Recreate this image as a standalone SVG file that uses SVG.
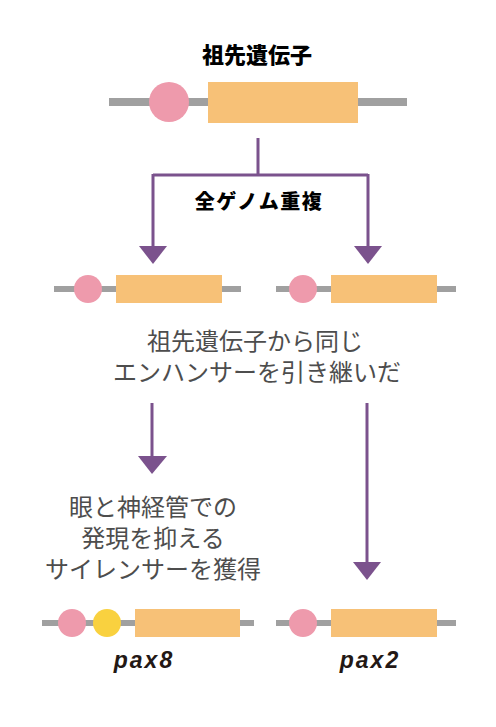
<svg xmlns="http://www.w3.org/2000/svg" width="496" height="727" viewBox="0 0 496 727">
<style>
.ln{stroke:#a0a0a0;stroke-width:6}
.pk{fill:#ee9aac}
.yl{fill:#f9d13f}
.ex{fill:#f7c177}
.ttl{font-family:"Noto Sans CJK JP",sans-serif;font-weight:900;font-size:20px;fill:#000;text-anchor:middle}
.txt{font-family:"Noto Sans CJK JP",sans-serif;font-size:24px;fill:#4d4d4d;text-anchor:middle}
.lab{font-family:"Liberation Sans",Arial,sans-serif;font-weight:bold;font-style:italic;font-size:23px;letter-spacing:2px;fill:#231815;text-anchor:middle}
.cn{stroke:#7b528d;stroke-width:3;fill:none}
.ah{fill:#7b528d}
</style>
<rect width="496" height="727" fill="#fff"/>
<g id="ancestor">
<text class="ttl" x="257" y="63" style="font-size:22px">祖先遺伝子</text>
<line class="ln" x1="109" y1="102" x2="407" y2="102" style="stroke-width:8"/>
<circle class="pk" cx="169" cy="102" r="20"/>
<rect class="ex" x="208" y="82" width="150" height="41"/>
</g>
<g id="connectors">
<path class="cn" d="M258,138 V175 M153,175 H368 M153,174 V248 M368,174 V248"/>
<polygon class="ah" points="139,246 167,246 153,264"/>
<polygon class="ah" points="354,246 382,246 368,264"/>
<path class="cn" d="M152,403 V458"/>
<polygon class="ah" points="138,456 167,456 152,474"/>
<path class="cn" d="M367,403 V565"/>
<polygon class="ah" points="353,562 381,562 367,580"/>
</g>
<g id="label-wgd">
<text class="ttl" x="259" y="209" style="letter-spacing:1.5px">全ゲノム重複</text>
</g>
<g id="gene-left-dup">
<line class="ln" x1="54" y1="289" x2="241" y2="289"/>
<circle class="pk" cx="88" cy="289" r="14"/>
<rect class="ex" x="116" y="275" width="106" height="28"/>
</g>
<g id="gene-right-dup">
<line class="ln" x1="276" y1="289" x2="456" y2="289"/>
<circle class="pk" cx="303" cy="289" r="14"/>
<rect class="ex" x="331" y="275" width="106" height="28"/>
</g>
<g id="note-enhancer">
<text class="txt" x="255" y="350">祖先遺伝子から同じ</text>
<text class="txt" x="257" y="381">エンハンサーを引き継いだ</text>
</g>
<g id="note-silencer">
<text class="txt" x="153" y="516">眼と神経管での</text>
<text class="txt" x="153" y="547">発現を抑える</text>
<text class="txt" x="153" y="578">サイレンサーを獲得</text>
</g>
<g id="pax8">
<line class="ln" x1="42" y1="623" x2="254" y2="623"/>
<circle class="pk" cx="72" cy="623" r="14"/>
<circle class="yl" cx="107" cy="623" r="14"/>
<rect class="ex" x="135" y="609" width="105" height="28"/>
<text class="lab" x="144" y="668">pax8</text>
</g>
<g id="pax2">
<line class="ln" x1="276" y1="623" x2="456" y2="623"/>
<circle class="pk" cx="303" cy="623" r="14"/>
<rect class="ex" x="331" y="609" width="106" height="28"/>
<text class="lab" x="370" y="668">pax2</text>
</g>
</svg>
